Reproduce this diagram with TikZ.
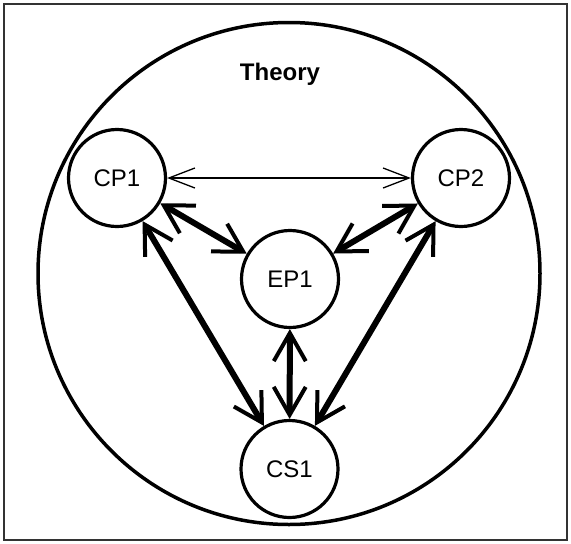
\documentclass[tikz,border=0pt]{standalone}
\usepackage{fontspec}
\setmainfont{Liberation Sans}
\usetikzlibrary{arrows.meta}
\begin{document}
\begin{tikzpicture}[x=1pt,y=-1pt,
  nodec/.style={circle, draw, line width=3.2pt, minimum size=97pt, inner sep=0pt, font=\fontsize{24}{26}\selectfont},
  bigbarb/.tip={Straight Barb[length=28pt,width=32pt,line width=4pt]},
  smallbarb/.tip={Straight Barb[length=26pt,width=20pt,line width=1.3pt]},
  thickarrow/.style={line width=6pt, bigbarb-bigbarb},
  thinarrow/.style={line width=1.2pt, smallbarb-smallbarb}]
\useasboundingbox (0,0) rectangle (571,544);
\draw[line width=1.4pt, draw=black!80] (4,4) rectangle (567,540);
\node[circle, draw, line width=3.5pt, minimum size=502pt, inner sep=0pt] (theory) at (289,273.5) {};
\node[font=\bfseries\fontsize{24}{26}\selectfont, anchor=base] (lbl) at (280,80) {Theory};
\node[nodec] (cp1) at (117,178) {CP1};
\node[nodec] (cp2) at (461,178) {CP2};
\node[nodec] (ep1) at (290,279) {EP1};
\node[nodec] (cs1) at (289.5,469) {CS1};
\draw[thinarrow] (cp1) -- (cp2);
\draw[thickarrow] (cp1) -- (ep1);
\draw[thickarrow] (cp2) -- (ep1);
\draw[thickarrow] (cp1) -- (cs1);
\draw[thickarrow] (cp2) -- (cs1);
\draw[thickarrow] (ep1) -- (cs1);
\end{tikzpicture}
\end{document}
